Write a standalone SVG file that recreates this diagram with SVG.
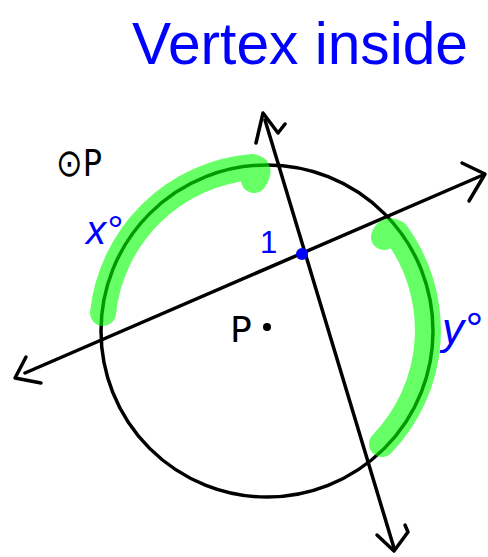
<svg xmlns="http://www.w3.org/2000/svg" width="488" height="557" viewBox="0 0 488 557">
<style>
.ink{fill:none;stroke:#000;stroke-width:3.5;stroke-linecap:round;stroke-linejoin:round}
.hl{fill:none;stroke:#00ff00;stroke-opacity:0.6;stroke-width:26;stroke-linecap:round;stroke-linejoin:round}
.blue{fill:#0000ff;font-family:"Liberation Sans","DejaVu Sans",sans-serif}
.blk{fill:#000;font-family:"DejaVu Sans","Liberation Sans",sans-serif}
</style>
<rect width="488" height="557" fill="#fff"/>
<text class="blue" x="132" y="64" font-size="60" textLength="336" lengthAdjust="spacingAndGlyphs">Vertex inside</text>
<g id="circleP">
<circle cx="267" cy="331" r="166" class="ink"/>
<circle cx="267" cy="327" r="4" fill="#000"/>
<text class="blk" x="230" y="342" font-size="36">P</text>
<text class="blk" x="56" y="176" font-size="38" textLength="46" lengthAdjust="spacingAndGlyphs">⊙P</text>
</g>
<g id="connectors">
<g id="line1">
<line x1="25" y1="373" x2="483" y2="175" class="ink"/>
<polyline points="26,357 15,378 41,383" class="ink"/>
<polyline points="462,163 485,174 469,201" class="ink"/>
</g>
<g id="line2">
<line x1="265" y1="120" x2="394" y2="548" class="ink"/>
<polyline points="256,143 263,113 278,133 285,124" class="ink"/>
<polyline points="377,535 394,551 408,532 405,525" class="ink"/>
</g>
</g>
<g id="arcs">
<path class="hl" d="M103,313 A164,164 0 0 1 252,167 Q262,168 254,180"/>
<path class="hl" d="M384,237 Q387,228 396,233 A164,164 0 0 1 382,444"/>
</g>
<g id="vertex">
<circle cx="302" cy="254" r="6" fill="#0000ff"/>
<text class="blue" x="260" y="253" font-size="31">1</text>
</g>
<text class="blue" x="86" y="244" font-size="40" font-style="italic">x°</text>
<text class="blue" x="442" y="344" font-size="44" font-style="italic">y°</text>
</svg>
